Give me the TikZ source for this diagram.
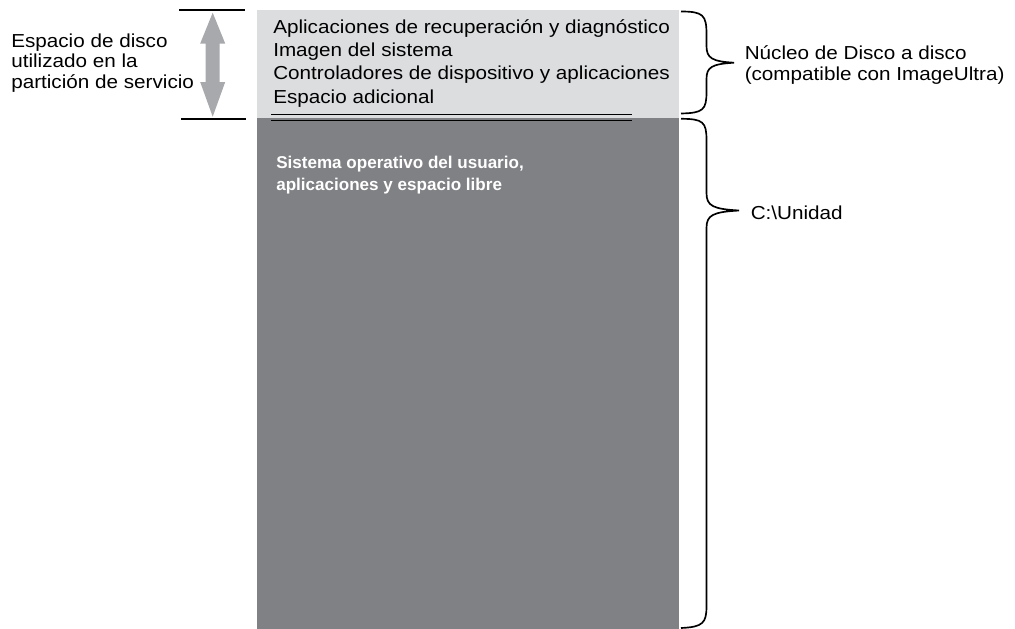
\documentclass[tikz,border=0pt]{standalone}
\usepackage{fontspec}
\setmainfont{Liberation Sans}
\newfontfamily\widefont[FakeStretch=1.1]{Liberation Sans}
\usetikzlibrary{arrows.meta}
\definecolor{lightbox}{HTML}{DCDDDF}
\definecolor{darkbox}{HTML}{808184}
\definecolor{arrowgray}{HTML}{A7A9AC}
\tikzset{
  txt/.style={anchor=base west, inner sep=0pt, font=\widefont\fontsize{14.1pt}{16pt}\selectfont},
  whitetxt/.style={anchor=base west, inner sep=0pt, text=white, font=\bfseries\fontsize{12.8pt}{16pt}\selectfont},
  bracepath/.style={draw=black, line width=1.25pt},
  rule/.style={draw=black, line width=0.9pt},
}
\begin{document}
\begin{tikzpicture}[x=0.75pt,y=-0.75pt]
\useasboundingbox (0,0) rectangle (1015,629);
% boxes
\fill[lightbox] (257,10) rectangle (679,118);
\fill[darkbox] (257,118) rectangle (679,629);
% double rule
\draw[rule] (271,114.5) -- (632,114.5);
\draw[rule] (271,120.5) -- (632,120.5);
% left markers
\coordinate (ltA) at (179,10);
\coordinate (ltB) at (245,10);
\coordinate (lbA) at (181,119);
\coordinate (lbB) at (246,119);
\draw[line width=0.9pt] (ltA) -- (ltB);
\draw[line width=0.9pt] (lbA) -- (lbB);
% double arrow
\fill[arrowgray] (212.7,12.7) -- (225.2,43.5) -- (219.7,43.5) -- (219.7,82) -- (225.2,82) -- (212.7,116.7)
  -- (200.2,82) -- (205.7,82) -- (205.7,43.5) -- (200.2,43.5) -- cycle;
% left text
\node[txt] (left1) at (11,47) {Espacio de disco};
\node[txt] (left2) at (11,67.7) {utilizado en la};
\node[txt] (left3) at (11,88.4) {partición de servicio};
% box text
\node[txt] (l1) at (273,33.3) {Aplicaciones de recuperación y diagnóstico};
\node[txt] (l2) at (273,56.6) {Imagen del sistema};
\node[txt] (l3) at (273,79.9) {Controladores de dispositivo y aplicaciones};
\node[txt] (l4) at (273,103.2) {Espacio adicional};
\node[whitetxt] (sys1) at (276,168) {Sistema operativo del usuario,};
\node[whitetxt] (sys2) at (276,190) {aplicaciones y espacio libre};
% braces
\path[bracepath] (681,11.5) .. controls (703,11.5) and (706.5,15) .. (706.5,34) -- (706.5,46)
  .. controls (706.5,58) and (712,61.5) .. (734,62.7)
  .. controls (712,64) and (706.5,67) .. (706.5,79) -- (706.5,92)
  .. controls (706.5,110) and (703,113) .. (681,113.5);
\path[bracepath] (681,118.8) .. controls (703,118.8) and (706.5,122) .. (706.5,140) -- (706.5,193)
  .. controls (706.5,206) and (713,209) .. (739,210.5)
  .. controls (713,212) and (706.5,215) .. (706.5,228) -- (706.5,606)
  .. controls (706.5,623) and (703,627) .. (681,628);
% right text
\node[txt] (nucleo1) at (744.5,59.5) {Núcleo de Disco a disco};
\node[txt] (nucleo2) at (744.5,80.5) {(compatible con ImageUltra)};
\node[txt] (unidad) at (750.5,219) {C:\textbackslash Unidad};
\end{tikzpicture}
\end{document}
